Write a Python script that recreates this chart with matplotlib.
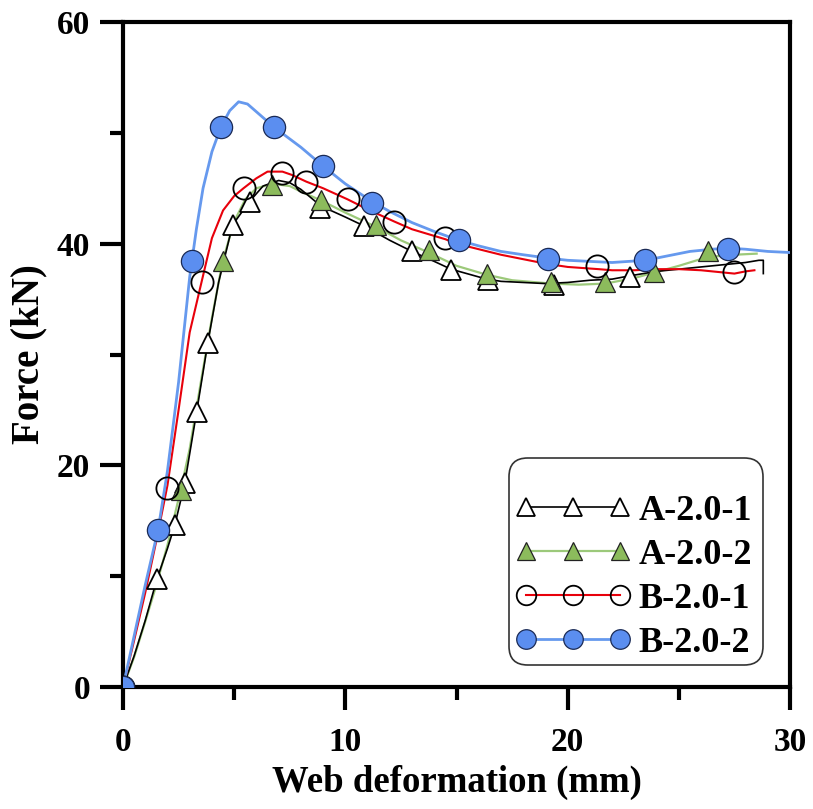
import matplotlib
matplotlib.use("Agg")
import matplotlib.pyplot as plt
from matplotlib.lines import Line2D
from matplotlib.patches import FancyBboxPatch

# ---------------- data ----------------
labels = ["A-2.0-1", "A-2.0-2", "B-2.0-1", "B-2.0-2"]

# A-2.0-1 (black line, open triangles)
a1_x = [0, 0.5, 1.0, 1.52, 2.0, 2.33, 2.78, 3.31, 3.81, 4.3, 4.93, 5.69, 6.3, 7.0, 7.5, 8.0, 8.9,
        10.0, 10.84, 12.0, 13.0, 14.0, 14.75, 16.0, 16.4, 17.0, 18.0, 19.0, 20.0, 21.0, 22.0,
        22.8, 24.0, 25.0, 26.0, 27.0, 28.0, 28.6, 28.8, 28.8]
a1_y = [0, 2.8, 6.0, 9.7, 12.5, 14.6, 18.4, 24.8, 31.0, 36.5, 41.7, 43.8, 45.2, 45.7, 45.5, 44.9, 43.4,
        42.4, 41.6, 40.3, 39.3, 38.4, 37.7, 37.0, 36.8, 36.6, 36.5, 36.4, 36.5, 36.7, 36.8,
        37.1, 37.5, 37.7, 37.9, 38.1, 38.3, 38.5, 38.5, 37.3]
a1_mx = [0, 1.52, 2.33, 2.78, 3.31, 3.81, 4.93, 5.69, 8.85, 10.84, 13.0, 14.75, 16.4, 19.4, 22.8]
a1_my = [0, 9.7, 14.6, 18.4, 24.8, 31.0, 41.7, 43.8, 43.2, 41.6, 39.3, 37.6, 36.7, 36.3, 37.0]

# A-2.0-2 (light green line, filled green triangles)
a2_x = [0, 0.5, 1.0, 1.5, 2.0, 2.6, 3.0, 3.5, 4.0, 4.48, 5.0, 5.5, 6.0, 6.72, 7.5, 8.0, 8.91,
        10.0, 11.4, 12.5, 13.75, 15.0, 16.35, 17.5, 19.26, 20.5, 21.7, 23.0, 23.9, 25.0,
        26.3, 27.5, 28.5]
a2_y = [0, 2.7, 5.9, 9.2, 12.8, 17.8, 21.5, 27.5, 33.3, 38.4, 42.0, 44.0, 45.0, 45.4, 45.2, 44.7, 43.9,
        42.8, 41.5, 40.3, 39.2, 38.0, 37.2, 36.7, 36.4, 36.3, 36.4, 36.9, 37.4, 38.0,
        38.8, 39.0, 39.1]
a2_mx = [0, 2.6, 4.48, 6.72, 8.91, 11.4, 13.75, 16.35, 19.26, 21.7, 23.9, 26.3]
a2_my = [0, 17.8, 38.4, 45.3, 43.9, 41.7, 39.4, 37.3, 36.5, 36.5, 37.4, 39.3]

# B-2.0-1 (red line, open circles)
b1_x = [0, 0.5, 1.0, 1.5, 2.0, 2.5, 3.0, 3.54, 4.0, 4.5, 5.0, 5.42, 6.0, 6.5, 7.17, 7.6, 8.24,
        9.0, 10.1, 11.0, 12.2, 13.0, 14.5, 15.0, 16.0, 17.0, 18.0, 19.0, 20.0, 21.4, 22.0,
        23.0, 24.0, 25.0, 26.0, 27.0, 27.5, 28.0, 28.4]
b1_y = [0, 4.2, 8.5, 13.2, 18.2, 25.0, 32.0, 36.6, 40.5, 43.0, 44.3, 45.0, 45.9, 46.5, 46.5, 46.2, 45.6,
        45.0, 44.0, 43.1, 42.0, 41.3, 40.4, 40.0, 39.5, 39.0, 38.6, 38.2, 37.9, 37.7, 37.6,
        37.6, 37.7, 37.7, 37.6, 37.4, 37.3, 37.5, 37.6]
b1_mx = [0, 2.0, 3.54, 5.42, 7.17, 8.24, 10.1, 12.2, 14.5, 21.3, 27.5]
b1_my = [0, 18.0, 36.5, 45.0, 46.4, 45.6, 44.0, 42.0, 40.5, 38.0, 37.4]

# B-2.0-2 (blue line, filled blue circles)
b2_x = [0, 0.5, 1.0, 1.58, 2.0, 2.5, 3.0, 3.3, 3.6, 4.0, 4.4, 4.8, 5.2, 5.6, 6.0, 6.8, 8.0,
        9.0, 10.0, 11.2, 12.0, 13.0, 14.0, 15.1, 16.0, 17.0, 18.0, 19.1, 20.0, 21.0, 22.0,
        23.5, 24.5, 25.5, 26.5, 27.2, 28.0, 29.0, 30.0]
b2_y = [0, 4.6, 9.2, 14.2, 19.5, 27.5, 37.0, 41.3, 45.0, 48.3, 50.5, 52.0, 52.8, 52.6, 51.9, 50.5, 48.7,
        47.0, 45.4, 43.8, 42.9, 41.9, 41.1, 40.3, 39.8, 39.3, 39.0, 38.7, 38.5, 38.4, 38.3,
        38.5, 38.9, 39.3, 39.5, 39.6, 39.5, 39.3, 39.2]
b2_mx = [0, 1.58, 3.1, 4.4, 6.8, 9.0, 11.2, 15.1, 19.1, 23.5, 27.2]
b2_my = [0, 14.2, 38.4, 50.5, 50.5, 47.0, 43.7, 40.3, 38.6, 38.5, 39.5]

x_ticks = [0, 10, 20, 30]
y_ticks = [0, 20, 40, 60]

# ---------------- style ----------------
plt.rcParams['font.family'] = ['Liberation Serif', 'DejaVu Serif']
plt.rcParams['font.weight'] = 'bold'

W, H = 813, 809
fig = plt.figure(figsize=(W / 100, H / 100), dpi=100)
ax = fig.add_axes([123 / W, 1 - 687 / H, (790 - 123) / W, (687 - 22) / H])

c_black = '#000000'
c_green_line = '#9cc97a'
c_green_face = '#8cbb5c'
c_red = '#e8000b'
c_blue_line = '#6699ee'
c_blue_face = '#5b8ef0'

# lines
ax.plot(a1_x, a1_y, color=c_black, lw=1.2, zorder=3)
ax.plot(a2_x, a2_y, color=c_green_line, lw=1.6, zorder=2)
ax.plot(b1_x, b1_y, color=c_red, lw=1.5, zorder=4)
ax.plot(b2_x, b2_y, color=c_blue_line, lw=2.0, zorder=5)

# markers
ms_tri = 15
ms_cir = 16
ax.plot(a1_mx, a1_my, ls='none', marker='^', ms=ms_tri, mfc='white', mec='black', mew=1.3, zorder=6)
ax.plot(a2_mx, a2_my, ls='none', marker='^', ms=ms_tri, mfc=c_green_face, mec='#222222', mew=0.9, zorder=7)
ax.plot(b1_mx, b1_my, ls='none', marker='o', ms=ms_cir, mfc='none', mec='black', mew=1.3, zorder=8)
ax.plot(b2_mx, b2_my, ls='none', marker='o', ms=ms_cir, mfc=c_blue_face, mec='#1a2a55', mew=0.9, zorder=9)

ax.set_xlim(0, 30)
ax.set_ylim(0, 60)
ax.set_xticks(x_ticks)
ax.set_yticks(y_ticks)
ax.set_xticks([5, 15, 25], minor=True)
ax.set_yticks([10, 30, 50], minor=True)

for s in ax.spines.values():
    s.set_linewidth(3.0)
ax.tick_params(which='major', direction='out', length=16.5, width=3.0, labelsize=24)
ax.tick_params(which='minor', direction='out', length=9.5, width=3.0)
ax.tick_params(axis='x', which='major', pad=12)
ax.tick_params(axis='y', which='major', pad=7)
for lab in ax.get_xticklabels() + ax.get_yticklabels():
    lab.set_fontweight('bold')

ax.set_xlabel('Web deformation (mm)', fontsize=26.5, fontweight='bold', labelpad=5)
ax.set_ylabel('Force (kN)', fontsize=28, fontweight='bold', labelpad=7)

# legend frame (drawn separately so its padding can differ horizontally/vertically)
ax_w, ax_h = 790 - 123, 687 - 22
fx0, fx1, fy_top, fy_bot = 509, 763, 458, 665
frame = FancyBboxPatch(((fx0 - 123) / ax_w, (687 - fy_bot) / ax_h),
                       (fx1 - fx0) / ax_w, (fy_bot - fy_top) / ax_h,
                       boxstyle='round,pad=0,rounding_size=0.028',
                       mutation_aspect=ax_w / ax_h,
                       transform=ax.transAxes, facecolor='white', edgecolor='#333333',
                       linewidth=1.2, zorder=10, clip_on=False)
ax.add_patch(frame)

handles = [
    Line2D([], [], color=c_black, lw=1.2, marker='^', ms=ms_tri, mfc='white', mec='black', mew=1.3),
    Line2D([], [], color=c_green_line, lw=1.6, marker='^', ms=ms_tri, mfc=c_green_face, mec='#222222', mew=0.9),
    Line2D([], [], color=c_red, lw=1.5, marker='o', ms=ms_cir, mfc='none', mec='black', mew=1.3),
    Line2D([], [], color=c_blue_line, lw=2.0, marker='o', ms=ms_cir, mfc=c_blue_face, mec='#1a2a55', mew=0.9),
]
leg = ax.legend(handles, labels, loc='lower right',
                bbox_to_anchor=((752 - 123) / ax_w, (687 - 660) / ax_h),
                numpoints=3, markerscale=0.88, handlelength=3.2, handletextpad=0.22,
                labelspacing=0.3, borderpad=0.0, borderaxespad=0.0,
                frameon=False,
                prop={'family': 'Liberation Serif', 'weight': 'bold', 'size': 26})
leg.set_zorder(11)

fig.savefig('out.png', dpi=100)
